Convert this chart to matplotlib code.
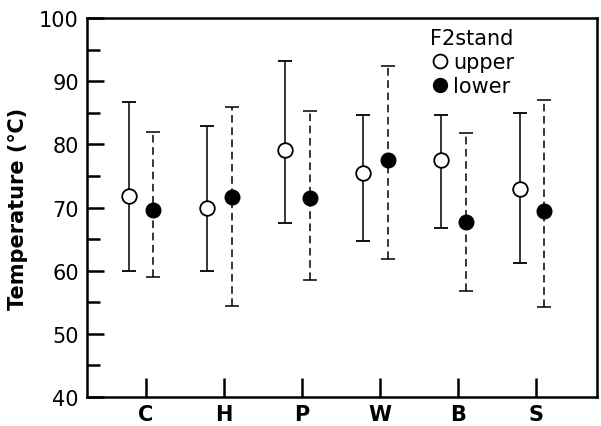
import matplotlib.pyplot as plt
import numpy as np

# ── Data ──
sites = ["C", "H", "P", "W", "B", "S"]

upper_mean = [71.8, 70.0, 79.2, 75.5, 77.6, 73.0]
upper_top = [86.8, 83.0, 93.2, 84.6, 84.7, 85.0]
upper_bot = [60.0, 60.0, 67.5, 64.7, 66.8, 61.2]

lower_mean = [69.6, 71.7, 71.5, 77.5, 67.7, 69.4]
lower_top = [81.9, 86.0, 85.3, 92.5, 81.8, 87.0]
lower_bot = [59.0, 54.4, 58.5, 61.8, 56.8, 54.2]


def main() -> None:
    plt.rcParams["font.family"] = "DejaVu Sans"
    fig = plt.figure(figsize=(6.01, 4.27), dpi=100)
    ax = fig.add_axes([0.145, 0.068, 0.848, 0.887])

    x = np.arange(1, len(sites) + 1)
    um, lm = np.array(upper_mean), np.array(lower_mean)
    uerr = [um - np.array(upper_bot), np.array(upper_top) - um]
    lerr = [lm - np.array(lower_bot), np.array(lower_top) - lm]

    eb_u = ax.errorbar(x - 0.21, um, yerr=uerr, fmt="o", color="black",
                       mfc="white", mec="black", mew=1.3, ms=10.5,
                       elinewidth=1.1, capsize=5, capthick=1.1,
                       label="upper", zorder=3)
    eb_l = ax.errorbar(x + 0.10, lm, yerr=lerr, fmt="o", color="black",
                       mfc="black", mec="black", ms=10.5,
                       elinewidth=1.1, capsize=5, capthick=1.1,
                       label="lower", zorder=3)
    eb_l[2][0].set_linestyle((0, (5, 3)))

    ax.set_xlim(0.25, 6.78)
    ax.set_ylim(40, 100)
    ax.set_xticks(x)
    ax.set_xticklabels(sites)
    ax.set_yticks(np.arange(40, 101, 10))
    ax.set_yticks(np.arange(45, 100, 10), minor=True)
    ax.tick_params(axis="y", which="major", direction="in", length=12, width=1.8,
                   labelsize=15, pad=6)
    ax.tick_params(axis="y", which="minor", direction="in", length=9, width=1.8)
    ax.tick_params(axis="x", direction="in", length=14, width=1.8,
                   labelsize=15, pad=5)
    for lab in ax.get_xticklabels():
        lab.set_fontweight("bold")
    for s in ax.spines.values():
        s.set_linewidth(1.8)

    ax.set_ylabel("Temperature (℃)", fontsize=15, fontweight="bold", labelpad=8)

    leg = ax.legend(handles=[eb_u[0], eb_l[0]], labels=["upper", "lower"],
                    title="F2stand", frameon=False, loc="upper left",
                    bbox_to_anchor=(0.665, 0.985), fontsize=15, title_fontsize=15,
                    handletextpad=0.2, handlelength=0.9, labelspacing=0.2,
                    borderaxespad=0.0, borderpad=0.2)
    leg._legend_box.align = "left"
    for h in leg.legend_handles:
        h.set_markersize(10)

    fig.savefig("out.png", dpi=100)


if __name__ == "__main__":
    main()
